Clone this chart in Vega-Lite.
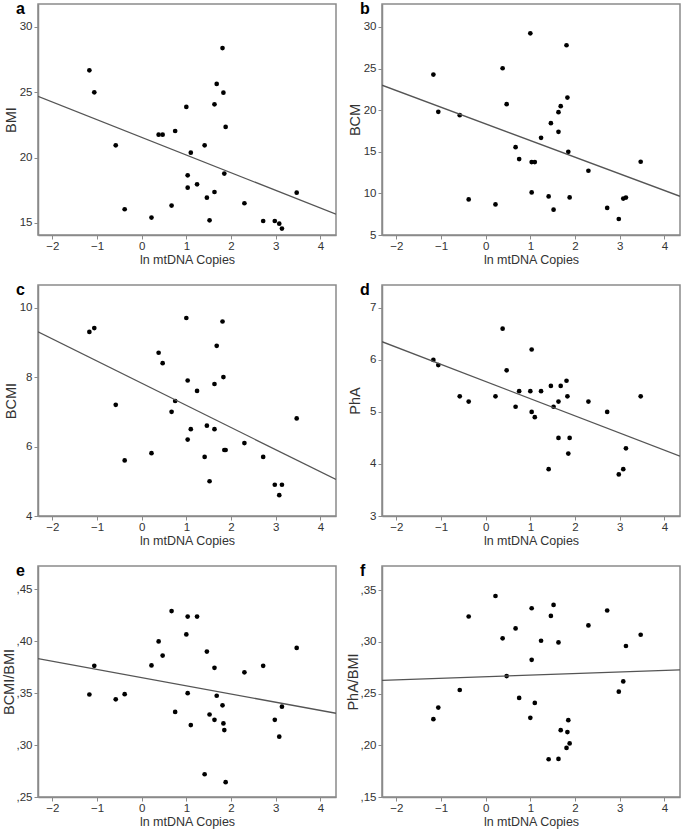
{
  "$schema": "https://vega.github.io/schema/vega-lite/v6.json",
  "background": "white",
  "padding": {"left": 0, "top": 0, "right": 2, "bottom": 0},
  "bounds": "flush",
  "columns": 2,
  "spacing": {"row": 50, "column": 46},
  "config": {
    "view": {"stroke": "#8a8a8a", "strokeWidth": 1.5},
    "axis": {"grid": false, "domainColor": "#8a8a8a", "domainWidth": 1.5, "tickColor": "#8a8a8a", "tickSize": 4, "tickWidth": 1, "labelFont": "Liberation Sans", "labelFontSize": 11.5, "labelColor": "#333", "titleFont": "Liberation Sans", "titleFontWeight": "normal", "titleColor": "#333"},
    "axisX": {"titleFontSize": 12.5, "titlePadding": 2, "labelPadding": 1},
    "axisY": {"titleFontSize": 14.5, "labelPadding": 2, "titleX": -27, "titleY": 115.5, "titleBaseline": "middle", "titleAngle": -90, "titleAlign": "center"},
    "text": {"align": "left", "baseline": "alphabetic", "font": "Liberation Sans", "fontSize": 16, "fontWeight": "bold", "color": "#000"}
  },
  "concat": [
    {
      "width": 298, "height": 231,
      "layer": [
        {
          "data": {"values": [
            {"x": -1.17, "y": 26.68}, {"x": -1.06, "y": 25.0}, {"x": -0.58, "y": 20.94}, {"x": -0.38, "y": 16.05}, {"x": 0.22, "y": 15.41},
            {"x": 0.38, "y": 21.76}, {"x": 0.47, "y": 21.76}, {"x": 0.67, "y": 16.33}, {"x": 0.75, "y": 22.04}, {"x": 1.0, "y": 23.88},
            {"x": 1.03, "y": 18.65}, {"x": 1.03, "y": 17.7}, {"x": 1.1, "y": 20.38}, {"x": 1.24, "y": 17.96}, {"x": 1.41, "y": 20.94},
            {"x": 1.46, "y": 16.94}, {"x": 1.52, "y": 15.2}, {"x": 1.63, "y": 24.08}, {"x": 1.63, "y": 17.37}, {"x": 1.68, "y": 25.64},
            {"x": 1.81, "y": 28.39}, {"x": 1.83, "y": 24.97}, {"x": 1.85, "y": 18.78}, {"x": 1.88, "y": 22.35}, {"x": 2.3, "y": 16.51},
            {"x": 2.72, "y": 15.15}, {"x": 2.98, "y": 15.15}, {"x": 3.08, "y": 14.95}, {"x": 3.14, "y": 14.57}, {"x": 3.47, "y": 17.32}
          ]},
          "mark": {"type": "circle", "size": 22, "color": "#000", "opacity": 1},
          "encoding": {
            "x": {"field": "x", "type": "quantitative", "scale": {"domain": [-2.32, 4.35], "nice": false, "zero": false}, "axis": {"title": "ln mtDNA Copies", "values": [-2, -1, 0, 1, 2, 3, 4]}},
            "y": {"field": "y", "type": "quantitative", "scale": {"domain": [14.08, 31.76], "nice": false, "zero": false}, "axis": {"title": "BMI", "values": [15, 20, 25, 30]}}
          }
        },
        {
          "data": {"values": [{"x": -2.32, "y": 24.69}, {"x": 4.35, "y": 15.67}]},
          "mark": {"type": "line", "color": "#555", "strokeWidth": 1.3, "clip": true},
          "encoding": {"x": {"field": "x", "type": "quantitative"}, "y": {"field": "y", "type": "quantitative"}}
        },
        {
          "data": {"values": [{"panel": "a"}]},
          "mark": {"type": "text"},
          "encoding": {"text": {"field": "panel"}, "x": {"datum": -2.81, "type": "quantitative"}, "y": {"datum": 31.0, "type": "quantitative"}}
        }
      ]
    },
    {
      "width": 298, "height": 231,
      "layer": [
        {
          "data": {"values": [
            {"x": -1.17, "y": 24.28}, {"x": -1.06, "y": 19.8}, {"x": -0.58, "y": 19.4}, {"x": -0.38, "y": 9.28}, {"x": 0.22, "y": 8.68},
            {"x": 0.38, "y": 25.04}, {"x": 0.47, "y": 20.72}, {"x": 0.67, "y": 15.56}, {"x": 0.75, "y": 14.12}, {"x": 1.0, "y": 29.24},
            {"x": 1.03, "y": 13.76}, {"x": 1.03, "y": 10.12}, {"x": 1.1, "y": 13.76}, {"x": 1.24, "y": 16.68}, {"x": 1.41, "y": 9.64},
            {"x": 1.46, "y": 18.44}, {"x": 1.52, "y": 8.04}, {"x": 1.63, "y": 19.76}, {"x": 1.63, "y": 17.4}, {"x": 1.68, "y": 20.48},
            {"x": 1.81, "y": 27.8}, {"x": 1.83, "y": 21.52}, {"x": 1.85, "y": 15.0}, {"x": 1.88, "y": 9.52}, {"x": 2.3, "y": 12.72},
            {"x": 2.72, "y": 8.25}, {"x": 2.98, "y": 6.92}, {"x": 3.08, "y": 9.38}, {"x": 3.14, "y": 9.5}, {"x": 3.47, "y": 13.8}
          ]},
          "mark": {"type": "circle", "size": 22, "color": "#000", "opacity": 1},
          "encoding": {
            "x": {"field": "x", "type": "quantitative", "scale": {"domain": [-2.32, 4.35], "nice": false, "zero": false}, "axis": {"title": "ln mtDNA Copies", "values": [-2, -1, 0, 1, 2, 3, 4]}},
            "y": {"field": "y", "type": "quantitative", "scale": {"domain": [5, 32.76], "nice": false, "zero": false}, "axis": {"title": "BCM", "values": [5, 10, 15, 20, 25, 30]}}
          }
        },
        {
          "data": {"values": [{"x": -2.32, "y": 23.0}, {"x": 4.35, "y": 9.65}]},
          "mark": {"type": "line", "color": "#555", "strokeWidth": 1.3, "clip": true},
          "encoding": {"x": {"field": "x", "type": "quantitative"}, "y": {"field": "y", "type": "quantitative"}}
        },
        {
          "data": {"values": [{"panel": "b"}]},
          "mark": {"type": "text"},
          "encoding": {"text": {"field": "panel"}, "x": {"datum": -2.81, "type": "quantitative"}, "y": {"datum": 31.56, "type": "quantitative"}}
        }
      ]
    },
    {
      "width": 298, "height": 231,
      "layer": [
        {
          "data": {"values": [
            {"x": -1.17, "y": 9.3}, {"x": -1.06, "y": 9.41}, {"x": -0.58, "y": 7.2}, {"x": -0.38, "y": 5.6}, {"x": 0.22, "y": 5.81},
            {"x": 0.38, "y": 8.7}, {"x": 0.47, "y": 8.4}, {"x": 0.67, "y": 7.0}, {"x": 0.75, "y": 7.31}, {"x": 1.0, "y": 9.7},
            {"x": 1.03, "y": 7.9}, {"x": 1.03, "y": 6.2}, {"x": 1.1, "y": 6.5}, {"x": 1.24, "y": 7.6}, {"x": 1.41, "y": 5.7},
            {"x": 1.46, "y": 6.6}, {"x": 1.52, "y": 5.0}, {"x": 1.63, "y": 7.8}, {"x": 1.63, "y": 6.5}, {"x": 1.68, "y": 8.9},
            {"x": 1.81, "y": 9.6}, {"x": 1.83, "y": 8.0}, {"x": 1.85, "y": 5.9}, {"x": 1.88, "y": 5.9}, {"x": 2.3, "y": 6.1},
            {"x": 2.72, "y": 5.7}, {"x": 2.98, "y": 4.9}, {"x": 3.08, "y": 4.6}, {"x": 3.14, "y": 4.9}, {"x": 3.47, "y": 6.81}
          ]},
          "mark": {"type": "circle", "size": 22, "color": "#000", "opacity": 1},
          "encoding": {
            "x": {"field": "x", "type": "quantitative", "scale": {"domain": [-2.32, 4.35], "nice": false, "zero": false}, "axis": {"title": "ln mtDNA Copies", "values": [-2, -1, 0, 1, 2, 3, 4]}},
            "y": {"field": "y", "type": "quantitative", "scale": {"domain": [4, 10.65], "nice": false, "zero": false}, "axis": {"title": "BCMI", "values": [4, 5, 6, 7, 8, 9, 10]}}
          }
        },
        {
          "data": {"values": [{"x": -2.32, "y": 9.3}, {"x": 4.35, "y": 5.05}]},
          "mark": {"type": "line", "color": "#555", "strokeWidth": 1.3, "clip": true},
          "encoding": {"x": {"field": "x", "type": "quantitative"}, "y": {"field": "y", "type": "quantitative"}}
        },
        {
          "data": {"values": [{"panel": "c"}]},
          "mark": {"type": "text"},
          "encoding": {"text": {"field": "panel"}, "x": {"datum": -2.81, "type": "quantitative"}, "y": {"datum": 10.36, "type": "quantitative"}}
        }
      ]
    },
    {
      "width": 298, "height": 231,
      "layer": [
        {
          "data": {"values": [
            {"x": -1.17, "y": 6.0}, {"x": -1.06, "y": 5.9}, {"x": -0.58, "y": 5.3}, {"x": -0.38, "y": 5.2}, {"x": 0.22, "y": 5.3},
            {"x": 0.38, "y": 6.6}, {"x": 0.47, "y": 5.8}, {"x": 0.67, "y": 5.1}, {"x": 0.75, "y": 5.4}, {"x": 1.0, "y": 5.4},
            {"x": 1.03, "y": 6.2}, {"x": 1.03, "y": 5.0}, {"x": 1.1, "y": 4.9}, {"x": 1.24, "y": 5.4}, {"x": 1.41, "y": 3.9},
            {"x": 1.46, "y": 5.5}, {"x": 1.52, "y": 5.1}, {"x": 1.63, "y": 4.5}, {"x": 1.63, "y": 5.2}, {"x": 1.68, "y": 5.5},
            {"x": 1.81, "y": 5.6}, {"x": 1.83, "y": 5.3}, {"x": 1.85, "y": 4.2}, {"x": 1.88, "y": 4.5}, {"x": 2.3, "y": 5.2},
            {"x": 2.72, "y": 5.0}, {"x": 2.98, "y": 3.8}, {"x": 3.08, "y": 3.9}, {"x": 3.14, "y": 4.3}, {"x": 3.47, "y": 5.3}
          ]},
          "mark": {"type": "circle", "size": 22, "color": "#000", "opacity": 1},
          "encoding": {
            "x": {"field": "x", "type": "quantitative", "scale": {"domain": [-2.32, 4.35], "nice": false, "zero": false}, "axis": {"title": "ln mtDNA Copies", "values": [-2, -1, 0, 1, 2, 3, 4]}},
            "y": {"field": "y", "type": "quantitative", "scale": {"domain": [3, 7.44], "nice": false, "zero": false}, "axis": {"title": "PhA", "values": [3, 4, 5, 6, 7]}}
          }
        },
        {
          "data": {"values": [{"x": -2.32, "y": 6.35}, {"x": 4.35, "y": 4.15}]},
          "mark": {"type": "line", "color": "#555", "strokeWidth": 1.3, "clip": true},
          "encoding": {"x": {"field": "x", "type": "quantitative"}, "y": {"field": "y", "type": "quantitative"}}
        },
        {
          "data": {"values": [{"panel": "d"}]},
          "mark": {"type": "text"},
          "encoding": {"text": {"field": "panel"}, "x": {"datum": -2.81, "type": "quantitative"}, "y": {"datum": 7.25, "type": "quantitative"}}
        }
      ]
    },
    {
      "width": 298, "height": 231,
      "layer": [
        {
          "data": {"values": [
            {"x": -1.17, "y": 0.3487}, {"x": -1.06, "y": 0.3763}, {"x": -0.58, "y": 0.344}, {"x": -0.38, "y": 0.349}, {"x": 0.22, "y": 0.3767},
            {"x": 0.38, "y": 0.3998}, {"x": 0.47, "y": 0.3862}, {"x": 0.67, "y": 0.429}, {"x": 0.75, "y": 0.3319}, {"x": 1.0, "y": 0.4065},
            {"x": 1.03, "y": 0.4237}, {"x": 1.03, "y": 0.35}, {"x": 1.1, "y": 0.3192}, {"x": 1.24, "y": 0.4237}, {"x": 1.41, "y": 0.2719},
            {"x": 1.46, "y": 0.39}, {"x": 1.52, "y": 0.3294}, {"x": 1.63, "y": 0.3243}, {"x": 1.63, "y": 0.3744}, {"x": 1.68, "y": 0.3475},
            {"x": 1.81, "y": 0.3383}, {"x": 1.83, "y": 0.3208}, {"x": 1.85, "y": 0.3144}, {"x": 1.88, "y": 0.2643}, {"x": 2.3, "y": 0.37},
            {"x": 2.72, "y": 0.3763}, {"x": 2.98, "y": 0.3243}, {"x": 3.08, "y": 0.3081}, {"x": 3.14, "y": 0.337}, {"x": 3.47, "y": 0.3935}
          ]},
          "mark": {"type": "circle", "size": 22, "color": "#000", "opacity": 1},
          "encoding": {
            "x": {"field": "x", "type": "quantitative", "scale": {"domain": [-2.32, 4.35], "nice": false, "zero": false}, "axis": {"title": "ln mtDNA Copies", "values": [-2, -1, 0, 1, 2, 3, 4]}},
            "y": {"field": "y", "type": "quantitative", "scale": {"domain": [0.25, 0.4724], "nice": false, "zero": false}, "axis": {"title": "BCMI/BMI", "titleX": -29, "values": [0.25, 0.3, 0.35, 0.4, 0.45], "labelExpr": "replace(format(datum.value, '.2f'), '0.', ',')"}}
          }
        },
        {
          "data": {"values": [{"x": -2.32, "y": 0.3833}, {"x": 4.35, "y": 0.3306}]},
          "mark": {"type": "line", "color": "#555", "strokeWidth": 1.3, "clip": true},
          "encoding": {"x": {"field": "x", "type": "quantitative"}, "y": {"field": "y", "type": "quantitative"}}
        },
        {
          "data": {"values": [{"panel": "e"}]},
          "mark": {"type": "text"},
          "encoding": {"text": {"field": "panel"}, "x": {"datum": -2.81, "type": "quantitative"}, "y": {"datum": 0.4628, "type": "quantitative"}}
        }
      ]
    },
    {
      "width": 298, "height": 231,
      "layer": [
        {
          "data": {"values": [
            {"x": -1.17, "y": 0.2252}, {"x": -1.06, "y": 0.2364}, {"x": -0.58, "y": 0.2534}, {"x": -0.38, "y": 0.3244}, {"x": 0.22, "y": 0.3442},
            {"x": 0.38, "y": 0.3033}, {"x": 0.47, "y": 0.2668}, {"x": 0.67, "y": 0.3129}, {"x": 0.75, "y": 0.2457}, {"x": 1.0, "y": 0.2265},
            {"x": 1.03, "y": 0.3324}, {"x": 1.03, "y": 0.2825}, {"x": 1.1, "y": 0.2409}, {"x": 1.24, "y": 0.301}, {"x": 1.41, "y": 0.1865},
            {"x": 1.46, "y": 0.325}, {"x": 1.52, "y": 0.3356}, {"x": 1.63, "y": 0.1868}, {"x": 1.63, "y": 0.2994}, {"x": 1.68, "y": 0.2146},
            {"x": 1.81, "y": 0.1974}, {"x": 1.83, "y": 0.2127}, {"x": 1.85, "y": 0.2242}, {"x": 1.88, "y": 0.2018}, {"x": 2.3, "y": 0.3158},
            {"x": 2.72, "y": 0.3302}, {"x": 2.98, "y": 0.2518}, {"x": 3.08, "y": 0.2617}, {"x": 3.14, "y": 0.2959}, {"x": 3.47, "y": 0.3068}
          ]},
          "mark": {"type": "circle", "size": 22, "color": "#000", "opacity": 1},
          "encoding": {
            "x": {"field": "x", "type": "quantitative", "scale": {"domain": [-2.32, 4.35], "nice": false, "zero": false}, "axis": {"title": "ln mtDNA Copies", "values": [-2, -1, 0, 1, 2, 3, 4]}},
            "y": {"field": "y", "type": "quantitative", "scale": {"domain": [0.15, 0.3732], "nice": false, "zero": false}, "axis": {"title": "PhA/BMI", "titleX": -29, "values": [0.15, 0.2, 0.25, 0.3, 0.35], "labelExpr": "replace(format(datum.value, '.2f'), '0.', ',')"}}
          }
        },
        {
          "data": {"values": [{"x": -2.32, "y": 0.2626}, {"x": 4.35, "y": 0.2729}]},
          "mark": {"type": "line", "color": "#555", "strokeWidth": 1.3, "clip": true},
          "encoding": {"x": {"field": "x", "type": "quantitative"}, "y": {"field": "y", "type": "quantitative"}}
        },
        {
          "data": {"values": [{"panel": "f"}]},
          "mark": {"type": "text"},
          "encoding": {"text": {"field": "panel"}, "x": {"datum": -2.81, "type": "quantitative"}, "y": {"datum": 0.3635, "type": "quantitative"}}
        }
      ]
    }
  ]
}
